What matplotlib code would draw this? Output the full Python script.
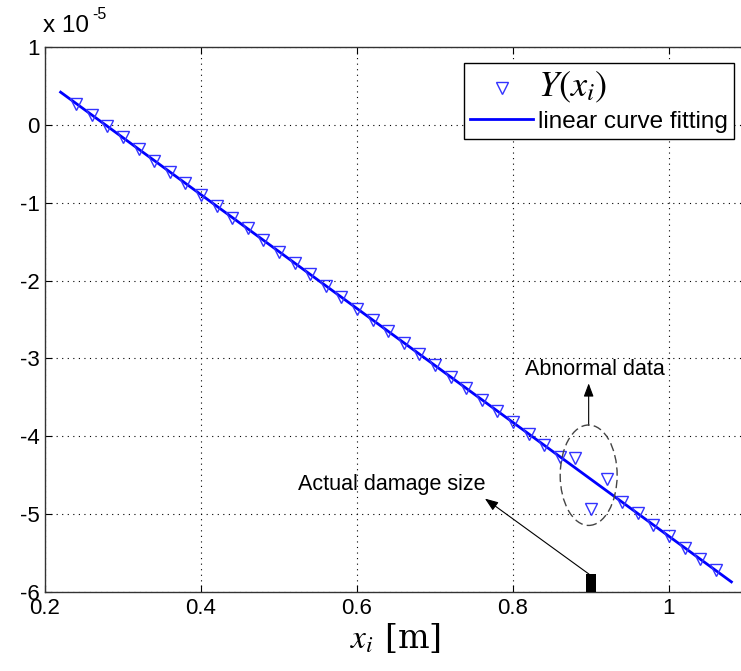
import matplotlib
matplotlib.use("Agg")
import matplotlib.pyplot as plt
from matplotlib.patches import Ellipse

plt.rcParams['font.family'] = ['Liberation Sans', 'DejaVu Sans']
plt.rcParams['mathtext.fontset'] = 'stix'
plt.rcParams['axes.unicode_minus'] = False

# data (units of 1e-5)
x_pts = [0.24, 0.26, 0.28, 0.30, 0.32, 0.34, 0.36, 0.38, 0.40, 0.42, 0.44, 0.46,
         0.48, 0.50, 0.52, 0.54, 0.56, 0.58, 0.60, 0.62, 0.64, 0.66, 0.68, 0.70,
         0.72, 0.74, 0.76, 0.78, 0.80, 0.82, 0.84, 0.86, 0.88, 0.90, 0.92, 0.94,
         0.96, 0.98, 1.00, 1.02, 1.04, 1.06]
y_pts = [0.27, 0.13, -0.02, -0.16, -0.31, -0.46, -0.60, -0.75, -0.90, -1.04, -1.19, -1.33,
         -1.48, -1.63, -1.77, -1.92, -2.07, -2.21, -2.36, -2.50, -2.65, -2.80, -2.94, -3.09,
         -3.24, -3.38, -3.53, -3.67, -3.82, -3.97, -4.11, -4.26, -4.28, -4.93, -4.55, -4.84,
         -4.99, -5.14, -5.28, -5.43, -5.57, -5.72]
fit_x = [0.22, 1.08]
fit_y = [0.42, -5.87]
damage_x = 0.90
damage_top = -5.77
xticks = [0.2, 0.4, 0.6, 0.8, 1.0]
xticklabels = ['0.2', '0.4', '0.6', '0.8', '1']
yticks = [-6, -5, -4, -3, -2, -1, 0, 1]

fig = plt.figure(figsize=(7.41, 6.71), dpi=100)
ax = fig.add_axes([45/741, 1-592/671, 702/741, 545/671])

ax.plot(fit_x, fit_y, color='#0000ff', lw=2, label='linear curve fitting', zorder=3)
ax.plot(x_pts, y_pts, linestyle='none', marker='v', markersize=8, markerfacecolor='none',
        markeredgecolor='#3333ff', markeredgewidth=1.0, label='$Y(x_i)$', zorder=4)

ax.bar([damage_x], [damage_top - (-6)], bottom=-6, width=0.012, color='black', zorder=5)

ax.add_patch(Ellipse((0.897, -4.50), 0.073, 1.29, fill=False, ls=(0, (6, 3)),
                     ec='#444444', lw=1.0, zorder=5))

ax.annotate('', xy=(0.897, -3.32), xytext=(0.897, -3.86),
            arrowprops=dict(arrowstyle='-|>,head_length=0.8,head_width=0.3',
                            color='black', lw=0.8, shrinkA=0, shrinkB=0))
ax.text(0.905, -3.14, 'Abnormal data', ha='center', va='center', fontsize=15.5)

ax.annotate('', xy=(0.764, -4.80), xytext=(0.8974, damage_top),
            arrowprops=dict(arrowstyle='-|>,head_length=0.8,head_width=0.3',
                            color='black', lw=0.8, shrinkA=0, shrinkB=0))
ax.text(0.644, -4.62, 'Actual damage size', ha='center', va='center', fontsize=15.5)

ax.set_xlim(0.2, 1.1)
ax.set_ylim(-6, 1)
ax.set_xticks(xticks)
ax.set_xticklabels(xticklabels)
ax.set_yticks(yticks)
ax.tick_params(direction='in', labelsize=16, length=5, top=True, right=True, pad=4)
ax.grid(True, linestyle=(0, (1, 4)), color='black', lw=0.8)
for s in ax.spines.values():
    s.set_color('#333333')
    s.set_linewidth(1.0)

fig.text(43/741, 1-37/671, 'x 10', fontsize=17.5, ha='left', va='bottom')
fig.text(92/741, 1-22/671, '-5', fontsize=11.5, ha='left', va='bottom')
ax.set_xlabel('$x_i$ [m]', fontsize=24, fontfamily='serif', labelpad=2)

h, l = ax.get_legend_handles_labels()
leg = ax.legend([h[1], h[0]], [l[1], l[0]], loc='upper right',
                bbox_to_anchor=((734-45)/702, (592-63)/545), fontsize=17.5,
                frameon=True, fancybox=False, edgecolor='black', framealpha=1,
                handlelength=2.6, borderpad=0.25, labelspacing=0.25, handletextpad=0.2,
                borderaxespad=0)
leg.get_frame().set_linewidth(1.0)
leg.get_texts()[0].set_fontsize(26)

fig.savefig('out.png', dpi=100)
